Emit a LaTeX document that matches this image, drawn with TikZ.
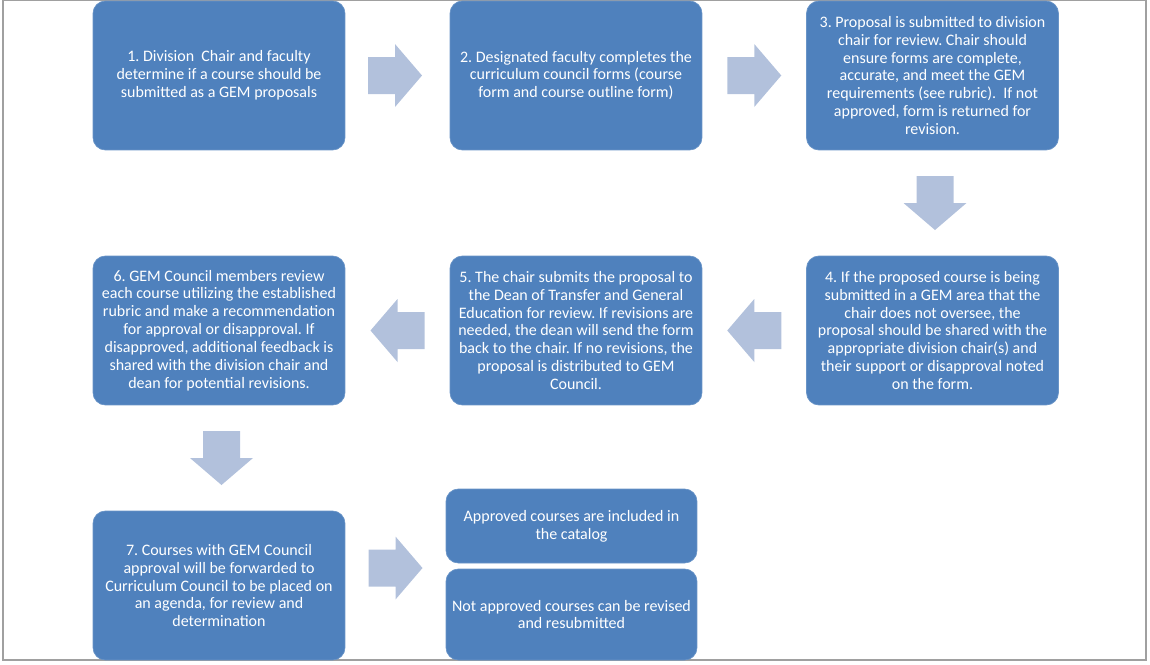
\documentclass[tikz,border=0pt]{standalone}
\usepackage{fontspec}
\setmainfont{Carlito}
\usepackage{tikz}
\usetikzlibrary{calc,positioning}
\definecolor{stepblue}{RGB}{79,129,189}
\definecolor{arrowblue}{RGB}{178,193,220}
\definecolor{framegray}{RGB}{160,160,160}
\frenchspacing

\begin{document}
\begin{tikzpicture}[
  x=0.02cm, y=-0.02cm,
  stepbox/.style={fill=stepblue, draw=stepblue!85!white, rounded corners=7pt, minimum width=5.04cm, minimum height=2.98cm, align=center, text=white, font=\fontsize{9.1}{10.2}\selectfont, inner sep=1pt},
  endbox/.style={stepbox, minimum width=5.02cm},
  pics/flowarrow/.style={code={
    \fill[arrowblue] (-27,-18.5) -- (0,-18.5) -- (0,-31.5) -- (27,0) -- (0,31.5) -- (0,18.5) -- (-27,18.5) -- cycle;}}
]
\useasboundingbox (0,0) rectangle (1150,664);

% Frame
\draw[framegray, line width=0.6pt] (3,0.5) rectangle (1146,660);

% Steps 1-3 (top row, left to right)
\node[stepbox] (s1) at (219,75.5) {1. Division\ \ Chair and faculty\\determine if a course should be\\submitted as a GEM proposals};
\node[stepbox] (s2) at (576,75.5) {2. Designated faculty completes the\\curriculum council forms (course\\form and course outline form)};
\node[stepbox] (s3) at (932.5,75.5) {3. Proposal is submitted to division\\chair for review. Chair should\\ensure forms are complete,\\accurate, and meet the GEM\\requirements (see rubric).\ \ If not\\approved, form is returned for\\revision.};

% Steps 4-6 (middle row, right to left)
\node[stepbox] (s4) at (932.5,330.5) {4. If the proposed course is being\\submitted in a GEM area that the\\chair does not oversee, the\\proposal should be shared with the\\appropriate division chair(s) and\\their support or disapproval noted\\on the form.};
\node[stepbox] (s5) at (576,330.5) {5. The chair submits the proposal to\\the Dean of Transfer and General\\Education for review. If revisions are\\needed, the dean will send the form\\back to the chair. If no revisions, the\\proposal is distributed to GEM\\Council.};
\node[stepbox] (s6) at (219,330.5) {6. GEM Council members review\\each course utilizing the established\\rubric and make a recommendation\\for approval or disapproval. If\\disapproved, additional feedback is\\shared with the division chair and\\dean for potential revisions.};

% Step 7 and outcomes
\node[stepbox] (s7) at (219,585.5) {7. Courses with GEM Council\\approval will be forwarded to\\Curriculum Council to be placed on\\an agenda, for review and\\determination};
\node[endbox, minimum height=1.48cm] (ok) at (571.5,526) {Approved courses are included in\\the catalog};
\node[endbox, minimum height=1.82cm] (notok) at (571.5,614.5) {Not approved courses can be revised\\and resubmitted};

% Block arrows
\path ($(s1.east)!0.5!(s2.west)$) pic[xshift=-0.05cm] {flowarrow};
\path ($(s2.east)!0.5!(s3.west)$) pic {flowarrow};
\path ($(s3.south)!0.5!(s4.north)$) pic[rotate=-90, yshift=0.05cm] {flowarrow};
\path ($(s4.west)!0.5!(s5.east)$) pic[rotate=180] {flowarrow};
\path ($(s5.west)!0.5!(s6.east)$) pic[rotate=180] {flowarrow};
\path ($(s6.south)!0.5!(s7.north)$) pic[rotate=-90, yshift=0.05cm] {flowarrow};
\path ($(s7.east)!0.5!(ok.west |- s7.east)$) pic[yshift=0.35cm] {flowarrow};

\end{tikzpicture}
\end{document}
